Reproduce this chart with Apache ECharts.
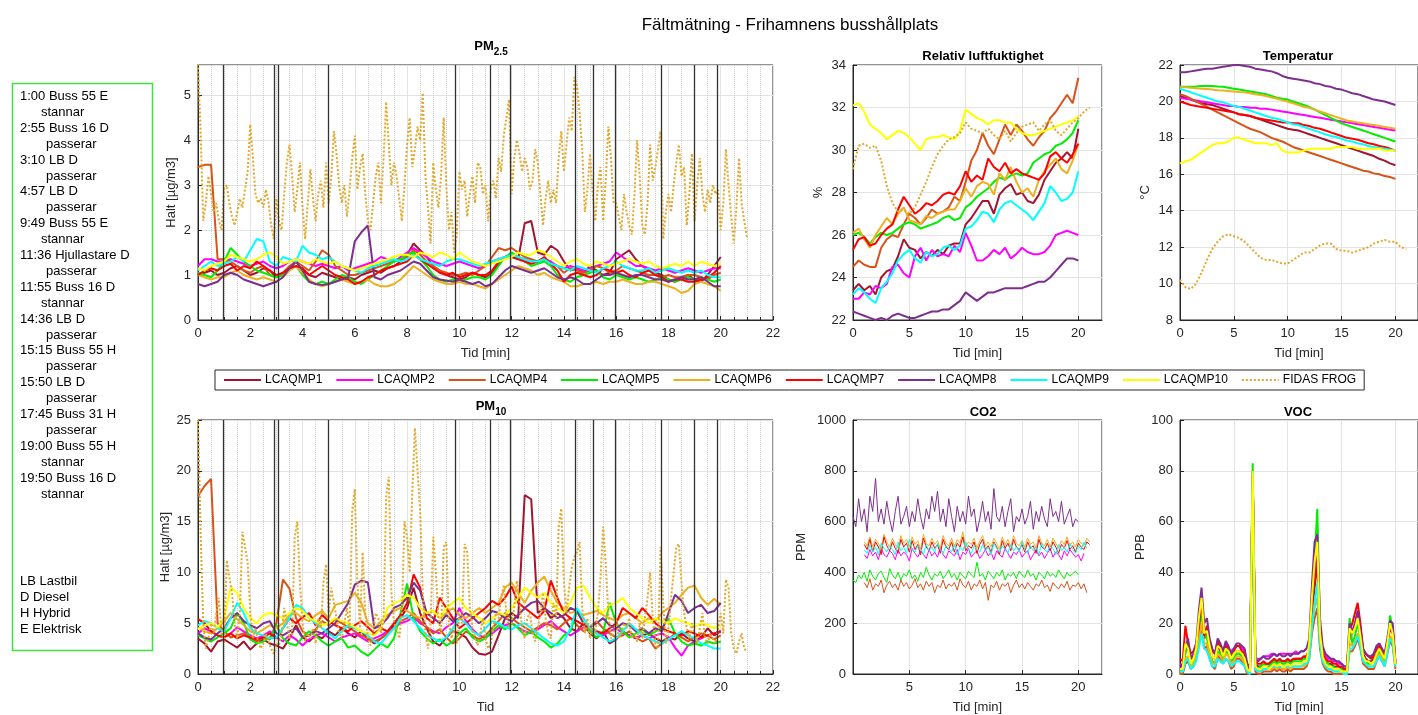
<!DOCTYPE html>
<html><head><meta charset="utf-8">
<script src="https://cdn.jsdelivr.net/npm/echarts@6/dist/echarts.min.js"></script>
<style>html,body{margin:0;padding:0;background:#fff}#c{width:1418px;height:715px}</style>
</head><body><div id="c"></div>
<script>
const FONT = 'Liberation Sans, Arial, sans-serif';
const sensorNames = ['LCAQMP1','LCAQMP2','LCAQMP4','LCAQMP5','LCAQMP6','LCAQMP7','LCAQMP8','LCAQMP9','LCAQMP10'];
const fidasName = 'FIDAS FROG';
const sensorColors = ['#A2142F','#FF00FF','#D95319','#00EE00','#EDB120','#FF0000','#7E2F8E','#00FFFF','#FFFF00'];
const fidasColor = '#E3A72A';

// event lines (min) drawn in PM plots
const eventTimes = [0.95, 2.91, 3.08, 4.97, 9.85, 11.2, 11.96, 14.45, 15.12, 15.97, 17.71, 19.0, 19.85];
const eventText = ['1:00 Buss 55 E','stannar','2:55 Buss 16 D','passerar','3:10 LB D','passerar','4:57 LB D','passerar','9:49 Buss 55 E','stannar','11:36 Hjullastare D','passerar','11:55 Buss 16 D','stannar','14:36 LB D','passerar','15:15 Buss 55 H','passerar','15:50 LB D','passerar','17:45 Buss 31 H','passerar','19:00 Buss 55 H','stannar','19:50 Buss 16 D','stannar'];
const keyText = ['LB Lastbil','D Diesel','H Hybrid','E Elektrisk'];

// ---- PM2.5 (sensors every 0.25 min from 0; FIDAS every 0.1 min from 0)
const pmStep = 0.25, fidasPmStep = 0.1;
const pm25_1 = [1.0,1.05,1.1,1.0, 1.05,1.15,1.2,1.1, 1.0,1.05,1.15,1.1, 0.95,1.0,1.15,1.3, 1.1,1.0,0.95,1.05, 1.0,0.95,0.9,0.95, 0.9,1.0,1.05,1.1, 1.05,1.15,1.2,1.3, 1.45,1.7,1.55,1.4, 1.2,1.1,1.0,0.95, 0.9,0.95,1.05,1.0, 0.95,1.05,1.25,1.4, 1.4,1.35,2.15,2.2, 1.5,1.45,1.65,1.55, 1.3,1.1,1.15,1.05, 1.2,1.1,1.0,1.05, 1.35,1.45,1.55,1.35, 1.2,1.1,1.05,1.0, 0.9,0.85,0.95,1.0, 0.9,0.85,1.0,1.2, 1.4];
const pm25_2 = [1.2,1.35,1.35,1.3, 1.3,1.35,1.3,1.25, 1.2,1.25,1.3,1.2, 1.15,1.2,1.3,1.35, 1.3,1.25,1.2,1.25, 1.2,1.15,1.2,1.1, 1.15,1.2,1.25,1.3, 1.4,1.35,1.3,1.4, 1.5,1.6,1.5,1.4, 1.3,1.25,1.2,1.25, 1.3,1.25,1.2,1.15, 1.2,1.3,1.35,1.4, 1.45,1.4,1.35,1.3, 1.3,1.35,1.3,1.2, 1.15,1.2,1.15,1.1, 1.15,1.2,1.25,1.3, 1.5,1.4,1.3,1.2, 1.2,1.15,1.1,1.15, 1.1,1.05,1.1,1.15, 1.1,1.05,1.1,1.15, 1.15];
const pm25_4 = [3.4,3.45,3.45,1.35, 1.35,1.3,1.2,1.1, 1.05,1.15,1.2,1.0, 0.95,1.05,1.2,1.3, 1.2,1.1,1.3,1.55, 1.45,1.2,1.1,1.0, 1.0,1.05,1.1,1.15, 1.2,1.25,1.3,1.35, 1.4,1.55,1.45,1.3, 1.2,1.1,1.05,1.0, 1.0,1.05,1.0,1.1, 1.2,1.4,1.6,1.55, 1.6,1.5,1.4,1.35, 1.3,1.35,1.25,1.2, 1.05,1.15,1.1,1.05, 1.1,1.2,1.15,1.05, 1.1,1.2,1.15,1.1, 1.05,1.0,1.0,0.95, 1.0,0.95,0.95,1.0, 1.0,0.95,0.9,1.0, 1.05];
const pm25_5 = [1.05,1.0,0.95,1.1, 1.3,1.6,1.45,1.3, 1.2,1.1,1.05,1.0, 0.95,1.0,1.1,1.2, 1.0,0.85,0.8,0.85, 0.8,0.9,1.0,0.95, 0.85,0.8,0.9,1.0, 1.1,1.2,1.3,1.35, 1.45,1.5,1.35,1.2, 1.0,0.9,0.85,0.9, 0.85,0.9,0.95,0.95, 0.9,1.0,1.2,1.4, 1.5,1.4,1.3,1.2, 1.25,1.3,1.2,1.0, 0.9,0.85,0.95,1.0, 1.05,1.1,0.95,0.9, 1.0,0.95,0.9,0.95, 0.9,0.85,0.9,0.95, 0.9,0.85,0.9,0.95, 0.9,0.95,0.9,0.85, 0.9];
const pm25_6 = [1.0,0.95,0.9,0.95, 0.95,1.05,1.1,1.0, 0.95,0.9,0.95,0.9, 0.85,0.95,1.1,1.2, 1.05,0.9,0.8,0.75, 0.8,0.85,0.9,0.85, 0.8,0.85,0.9,0.8, 0.75,0.75,0.8,0.9, 1.05,1.2,1.1,1.0, 0.9,0.85,0.8,0.8, 0.85,0.8,0.8,0.75, 0.7,0.8,0.9,1.0, 1.1,1.2,1.15,1.1, 1.0,1.05,0.95,0.9, 0.85,0.75,0.75,0.8, 0.8,0.85,0.8,0.85, 0.85,0.9,0.85,0.8, 0.8,0.85,0.85,0.8, 0.75,0.7,0.6,0.65, 0.8,0.85,0.8,0.75, 0.65];
const pm25_7 = [1.0,1.1,1.15,1.1, 1.2,1.25,1.1,1.2, 1.15,1.3,1.2,1.1, 1.0,1.05,1.15,1.2, 1.15,1.0,1.1,1.2, 1.1,1.0,0.95,0.9, 0.8,0.85,0.95,1.0, 1.1,1.15,1.2,1.25, 1.3,1.45,1.35,1.25, 1.15,1.05,1.0,1.05, 0.95,1.0,1.05,1.0, 1.0,1.1,1.3,1.4, 1.45,1.35,1.3,1.25, 1.3,1.4,1.25,1.1, 0.85,1.0,1.05,1.0, 0.95,1.0,1.15,1.1, 1.05,1.1,1.0,0.95, 1.05,1.1,1.0,0.95, 0.85,0.9,0.9,0.85, 0.85,0.9,0.95,1.05, 1.2];
const pm25_8 = [0.8,0.75,0.8,0.85, 1.0,1.05,1.0,0.9, 0.85,0.8,0.75,0.8, 0.85,0.95,1.15,1.3, 1.1,0.85,0.8,0.78, 0.8,0.85,0.9,0.95, 1.75,1.95,2.1,0.95, 0.9,1.0,1.05,1.1, 1.2,1.3,1.25,1.1, 0.95,0.9,0.88,0.85, 0.9,0.85,0.8,0.85, 0.75,0.8,0.95,1.1, 1.2,1.15,1.1,1.05, 1.1,1.15,1.05,0.95, 0.9,0.95,0.9,0.8, 0.8,0.9,1.0,1.0, 1.05,1.0,0.95,1.0, 1.0,0.95,0.9,0.9, 0.85,0.9,0.95,0.9, 0.9,0.95,0.85,0.75, 0.75];
const pm25_9 = [1.1,1.2,1.3,1.2, 1.25,1.3,1.4,1.3, 1.55,1.8,1.75,1.3, 1.2,1.4,1.35,1.3, 1.65,1.5,1.45,1.35, 1.4,1.3,1.2,1.15, 1.1,1.05,1.15,1.2, 1.25,1.3,1.35,1.3, 1.35,1.45,1.35,1.3, 1.25,1.2,1.3,1.35, 1.35,1.3,1.25,1.2, 1.25,1.3,1.35,1.4, 1.45,1.4,1.35,1.3, 1.3,1.35,1.25,1.2, 1.15,1.1,1.2,1.15, 1.1,1.05,1.15,1.2, 1.3,1.2,1.15,1.1, 1.1,1.15,1.05,1.1, 1.15,1.1,1.05,1.1, 1.05,1.1,1.0,0.95, 0.95];
const pm25_10 = [1.15,1.1,1.2,1.25, 1.3,1.45,1.4,1.35, 1.3,1.35,1.45,1.5, 1.4,1.25,1.3,1.35, 1.3,1.25,1.35,1.3, 1.25,1.3,1.2,1.15, 1.1,1.15,1.2,1.25, 1.3,1.35,1.4,1.45, 1.45,1.4,1.5,1.45, 1.4,1.5,1.45,1.35, 1.5,1.4,1.3,1.25, 1.2,1.25,1.3,1.35, 1.4,1.5,1.45,1.45, 1.55,1.5,1.4,1.3, 1.2,1.3,1.35,1.25, 1.2,1.3,1.25,1.2, 1.25,1.3,1.35,1.3, 1.25,1.3,1.2,1.15, 1.2,1.25,1.2,1.3, 1.2,1.3,1.25,1.2, 1.25];
const pm25_fidas = [5.7,4.2,2.2,2.6,3.2,2.8,2.4,2.6,2.2,2.0, 2.9,3.0,2.6,2.3,2.1,2.4,2.7,2.5,2.9,3.3, 4.35,3.6,2.8,2.6,2.7,2.5,2.9,2.6,2.1,1.8, 2.7,2.2,2.0,2.8,3.5,3.9,3.2,2.4,2.9,3.5, 2.5,1.8,2.6,3.35,2.7,2.2,2.8,3.1,2.5,3.5, 2.6,3.2,4.2,3.7,3.0,2.6,3.0,2.3,2.9,3.6, 4.1,2.9,3.4,3.7,2.8,2.2,2.0,2.6,3.2,3.5, 2.6,3.6,4.85,3.9,3.0,3.5,3.2,2.7,2.2,3.0, 3.9,4.5,3.4,3.8,4.3,4.0,5.05,3.2,2.5,1.7, 3.5,2.9,2.5,3.2,4.5,3.0,2.0,2.4,1.5,1.9, 3.3,2.9,3.1,2.3,2.8,3.2,2.6,3.5,3.4,2.8, 3.0,2.2,2.9,3.1,2.7,3.6,3.3,4.1,4.5,4.9, 2.8,3.6,4.0,3.7,3.3,3.6,3.4,2.9,3.1,3.8, 3.5,2.8,2.1,2.7,3.1,2.6,2.9,2.6,3.6,4.2, 3.3,3.9,4.5,4.2,5.4,5.2,4.6,3.8,2.4,2.9, 3.7,2.8,2.2,3.0,3.4,2.2,3.1,4.3,3.6,2.6, 2.6,2.3,2.0,2.8,2.4,2.1,1.9,2.8,4.0,3.2, 2.1,1.9,2.6,3.9,3.1,3.4,3.8,4.2,1.8,2.4, 2.8,2.4,3.0,3.5,3.9,3.2,3.4,2.1,2.8,3.7, 2.2,3.0,3.6,2.8,2.4,2.9,2.6,3.0,2.8,2.9, 2.0,2.6,3.8,3.0,2.3,1.7,2.5,3.6,2.6,2.2, 1.85];

// ---- PM10
const pm10_1 = [3.5,3.0,2.2,3.2, 3.4,3.0,2.6,3.2, 2.4,3.0,3.4,3.0, 2.8,2.5,3.5,4.8, 3.6,3.2,3.8,3.5, 4.2,3.8,4.5,4.0, 3.6,4.2,3.4,3.0, 3.5,4.0,4.8,5.5, 6.5,8.5,6.0,4.5, 3.2,2.8,3.6,4.2, 4.0,3.6,2.6,2.0, 1.9,2.2,3.8,5.5, 6.0,5.5,17.6,17.2, 6.0,6.5,5.5,6.0, 5.5,4.5,4.2,5.0, 4.0,3.5,4.2,3.0, 3.4,4.2,3.8,3.5, 3.8,4.0,3.5,3.2, 3.6,3.4,4.0,3.5, 3.2,3.6,4.5,3.8, 4.2];
const pm10_2 = [4.0,4.5,4.2,3.8, 3.6,4.0,4.6,4.2, 3.8,3.5,3.8,4.2, 3.6,3.2,3.8,3.4, 2.8,3.4,3.8,4.0, 3.6,3.2,3.6,3.8, 4.0,3.6,3.2,3.5, 3.8,4.2,4.5,5.0, 5.2,5.6,5.0,4.6, 4.2,4.0,4.6,5.0, 6.5,5.2,4.4,3.8, 3.6,4.0,4.5,4.8, 5.0,4.6,4.2,4.0, 4.4,4.8,5.2,4.6, 4.2,3.8,4.2,4.6, 4.4,4.0,3.8,4.2, 4.5,4.0,3.8,3.6, 3.8,3.5,3.8,4.0, 3.6,2.6,1.8,2.8, 3.2,3.5,3.8,4.0, 4.2];
const pm10_4 = [17.5,18.5,19.2,5.0, 4.2,3.6,3.8,4.0, 3.5,3.2,3.6,3.4, 5.0,9.3,8.4,5.5, 4.2,3.8,4.4,5.2, 4.8,5.4,5.0,4.6, 4.2,3.8,3.5,3.2, 3.5,4.0,4.5,5.2, 5.5,6.0,5.2,4.6, 4.0,4.4,3.6,3.0, 3.5,4.2,3.8,3.4, 3.8,4.5,5.2,6.0, 5.5,5.0,4.6,4.2, 4.6,5.0,4.8,4.4, 5.0,5.5,4.8,4.2, 4.6,5.2,4.5,4.0, 3.6,3.8,4.2,3.6, 3.2,3.5,2.5,3.0, 3.4,4.0,3.6,3.2, 3.6,4.0,3.8,3.4, 3.8];
const pm10_5 = [3.8,3.5,3.2,3.6, 4.0,4.5,6.0,5.0, 3.4,3.0,3.2,3.6, 4.8,3.5,3.0,2.8, 3.6,4.2,3.8,3.2, 2.8,3.2,3.5,2.6, 2.8,2.2,1.8,2.4, 3.0,2.6,3.5,6.0, 8.9,5.5,4.2,3.5, 3.0,3.4,2.8,3.2, 4.0,4.5,3.6,3.2, 3.5,4.2,4.8,4.4, 5.0,4.5,3.8,4.2, 3.6,3.2,2.6,3.0, 3.8,4.2,6.2,5.0, 4.2,3.6,4.0,7.0, 5.0,4.2,3.6,4.0, 4.4,3.8,4.2,4.5, 5.5,4.0,3.2,2.8, 3.0,2.8,3.2,3.0, 3.2];
const pm10_6 = [4.6,4.2,4.0,4.5, 5.2,6.0,5.4,4.8, 4.2,4.0,4.4,4.8, 4.5,5.0,5.8,6.0, 5.5,5.2,5.8,6.2, 5.5,6.8,7.0,7.2, 8.0,7.0,5.0,4.5, 5.2,5.8,6.2,6.5, 6.2,5.8,5.5,6.0, 6.2,5.5,6.0,6.5, 5.8,5.5,6.0,6.5, 6.0,6.5,7.0,8.5, 9.0,8.0,7.0,8.2, 9.0,9.6,8.2,7.0, 6.5,6.0,6.2,5.8, 6.0,6.2,5.8,5.5, 5.2,5.8,6.0,5.5, 5.0,5.5,5.2,6.0, 6.5,7.0,7.8,8.5, 8.7,7.5,6.8,7.4, 6.8];
const pm10_7 = [5.4,5.0,4.2,3.8, 3.6,4.0,3.5,3.8, 3.6,3.4,3.6,4.0, 3.5,4.5,5.5,5.0, 5.6,6.0,4.8,5.8, 5.2,4.8,4.5,4.2, 4.8,5.2,4.6,4.0, 4.5,4.2,5.0,5.8, 7.0,9.8,8.5,5.5, 5.0,7.5,6.5,5.5, 4.5,5.0,5.5,6.0, 6.5,7.2,6.8,7.5, 8.6,7.0,6.5,6.0, 5.5,6.2,9.2,7.5, 6.0,5.5,5.2,4.8, 4.5,4.2,4.0,4.5, 5.0,6.5,6.0,5.5, 6.5,5.8,5.0,4.5, 4.2,4.0,3.8,4.2, 4.0,3.6,3.8,4.0, 4.2];
const pm10_8 = [4.0,3.6,3.4,4.0, 4.5,5.5,6.0,5.2, 4.8,4.5,5.0,5.2, 4.0,3.8,4.2,4.5, 3.6,3.8,4.2,4.0, 4.5,5.0,6.0,7.0, 8.8,9.2,9.0,4.5, 4.8,5.5,6.5,6.8, 7.5,9.0,8.2,6.0, 5.5,5.0,5.8,5.2, 5.5,6.0,5.6,5.0, 5.5,6.2,6.0,5.5, 5.2,5.8,6.5,7.0, 7.2,6.5,6.0,5.5, 5.8,6.5,6.2,5.0, 4.6,5.0,5.5,4.8, 4.5,5.0,4.8,4.2, 4.5,4.0,4.5,4.2, 6.0,7.8,7.2,6.0, 6.5,6.8,6.0,6.2, 7.0];
const pm10_9 = [4.8,5.2,5.0,4.5, 4.2,5.5,7.0,6.0, 4.5,4.0,3.8,3.5, 3.6,4.5,5.5,6.8, 6.5,5.5,5.0,4.5, 4.0,3.5,4.2,4.8, 4.5,4.2,3.8,3.2, 3.0,3.8,4.5,5.5, 5.8,5.2,4.5,3.8, 3.5,3.2,3.6,4.5, 5.5,5.0,4.2,3.8, 4.5,5.2,5.0,4.6, 4.4,4.8,5.0,4.5, 4.0,3.5,3.0,2.8, 3.2,4.5,6.5,5.5, 4.5,4.0,3.6,3.2, 3.5,4.2,5.0,4.4, 3.8,3.5,3.2,3.0, 3.4,3.8,4.2,3.8, 3.5,3.0,2.8,2.5, 2.5];
const pm10_10 = [4.4,4.8,5.0,4.6, 5.5,8.5,8.0,6.5, 5.5,5.0,5.8,6.0, 5.8,5.5,6.0,6.5, 6.2,5.5,5.2,4.8, 5.0,5.5,5.2,5.0, 4.6,4.2,4.0,3.8, 4.5,6.5,7.0,7.2, 7.8,7.5,6.5,6.0, 6.2,5.5,6.5,7.0, 7.5,6.5,6.0,5.5, 5.0,5.5,6.0,5.8, 6.5,7.5,8.5,8.0, 7.5,8.0,7.0,6.5, 6.0,7.0,8.5,8.7, 7.5,6.5,6.0,6.8, 7.0,7.5,6.5,6.0, 5.5,5.0,5.5,5.2, 5.0,5.5,5.2,5.0, 4.6,5.0,4.8,4.5, 4.8];
const pm10_fidas = [25,14,5.0,2.5,3.5,5.0,4.0,6.0,7.5,4.0, 3.0,11.2,9.5,8.0,5.0,3.5,6.0,14.0,12.5,11.0, 6.0,3.5,4.5,3.2,2.5,3.0,4.0,3.2,2.5,2.0, 3.0,2.8,4.0,6.5,5.0,3.5,4.0,13.5,15.0,9.0, 5.0,3.2,4.0,3.5,4.5,3.0,5.5,4.5,9.0,10.8, 6.0,8.5,7.0,5.5,4.0,3.5,5.0,6.5,4.5,16.0, 18.2,9.0,4.5,12.0,6.0,3.5,2.8,4.0,6.0,5.5, 4.0,5.5,17.5,19.4,8.0,5.0,4.5,3.5,6.0,15.0, 13.5,10.0,18.0,24.2,20.0,16.0,8.0,4.0,2.5,5.0, 13.5,10.0,5.5,4.0,12.5,13.0,5.0,3.5,4.5,3.0, 6.0,5.0,12.8,12.0,6.5,4.5,3.5,2.8,4.0,5.5, 3.5,2.5,3.0,4.5,6.0,5.5,7.5,8.8,6.0,4.5, 5.0,6.5,9.2,7.0,4.5,3.5,5.5,6.0,4.0,3.2, 4.5,6.0,8.0,5.5,4.0,3.5,7.0,5.5,14.5,16.3, 9.0,6.0,8.5,10.5,11.5,12.0,13.0,6.5,4.0,5.5, 3.5,5.0,4.0,6.0,9.5,14.5,10.8,6.0,3.5,4.0, 5.5,3.5,4.0,5.0,4.5,5.5,3.5,4.0,3.2,5.0, 3.5,5.5,7.5,10.0,5.5,3.0,2.5,12.5,7.0,3.0, 4.5,7.5,10.0,12.5,12.8,9.0,6.0,4.5,3.5,5.0, 4.0,3.0,4.5,6.0,3.5,3.0,4.0,3.5,3.0,4.5, 6.0,4.0,9.3,8.5,4.0,2.5,2.0,3.2,4.0,2.5, 2.2];

// ---- Relative humidity and temperature (every 0.5 min from 0)
const slowStep = 0.5;
const rh_1 = [23.4,23.7,23.4,23.6,23.2,24.0,24.3,24.4,25.0,25.8,25.4,25.3,24.9,25.2,25.0,25.3,25.1,25.5,25.6,25.6,26.5,26.8,27.2,27.6,27.6,27.0,27.9,28.2,28.4,27.9,28.0,27.6,27.5,27.9,28.6,29.0,29.4,29.6,29.9,29.6,31.0];
const rh_2 = [23.0,23.0,23.3,23.2,23.6,23.5,23.7,24.5,24.6,24.2,24.0,25.0,25.4,24.8,25.3,25.0,25.1,25.0,25.5,25.2,26.1,25.5,24.8,24.8,25.0,25.3,25.1,25.4,24.9,25.1,25.4,25.2,25.1,25.1,25.2,25.5,26.0,26.1,26.2,26.1,26.0];
const rh_4 = [24.5,24.8,24.6,24.5,24.5,25.4,25.8,26.0,25.9,26.5,27.0,26.8,26.5,26.8,27.2,27.0,27.1,27.3,27.8,27.6,28.5,29.5,30.0,30.8,30.2,29.8,30.5,31.2,30.7,31.2,30.9,30.5,30.2,30.6,30.9,31.5,31.8,32.2,32.6,32.2,33.4];
const rh_5 = [26.0,26.1,25.9,25.6,25.9,26.1,26.0,26.1,26.3,26.5,26.6,26.5,26.3,26.4,26.5,26.6,26.8,26.9,26.7,26.8,27.3,27.5,27.8,28.0,28.2,28.5,28.7,28.6,28.8,28.9,28.8,28.9,29.4,29.6,29.8,29.9,30.2,30.3,30.5,30.8,31.4];
const rh_6 = [26.1,26.3,25.8,25.4,26.0,26.4,26.8,26.5,27.0,27.3,26.7,26.6,26.5,26.9,26.8,27.0,27.1,27.2,27.2,27.6,28.2,27.8,28.3,28.5,28.4,27.9,28.9,28.6,29.2,28.5,28.0,28.2,27.8,28.6,29.0,29.3,29.6,29.1,28.9,29.5,30.3];
const rh_7 = [25.3,25.8,25.9,25.5,25.6,26.0,26.3,26.5,27.2,27.8,27.4,27.0,27.2,27.5,27.4,27.6,27.9,28.0,27.9,28.3,29.0,28.5,28.8,28.6,29.6,29.2,29.0,29.4,28.9,29.1,28.9,28.8,28.7,28.6,28.9,29.7,29.9,29.6,29.4,29.8,30.3];
const rh_8 = [22.4,22.3,22.2,22.1,22.0,22.1,22.0,22.2,22.3,22.2,22.1,22.1,22.2,22.3,22.4,22.4,22.5,22.5,22.7,22.9,23.3,23.1,22.9,23.1,23.3,23.3,23.4,23.5,23.5,23.5,23.5,23.6,23.7,23.8,23.8,24.0,24.3,24.6,24.9,24.9,24.8];
const rh_9 = [23.2,23.5,23.3,23.0,22.8,23.5,23.8,24.2,24.8,25.1,25.3,24.9,24.7,25.2,25.0,25.1,25.4,25.5,25.3,25.5,26.3,26.4,26.7,27.1,27.0,26.6,27.2,27.5,27.6,27.4,27.2,27.0,26.7,27.1,27.5,28.3,28.0,27.6,27.7,28.0,29.0];
const rh_10 = [32.1,32.2,31.8,31.2,31.0,30.8,30.5,30.7,30.9,30.8,30.6,30.3,30.0,30.5,30.6,30.6,30.7,30.6,30.5,30.9,31.9,31.7,31.5,31.4,31.2,31.4,31.4,31.3,31.3,31.0,30.8,30.7,30.7,30.8,30.9,31.0,31.1,31.2,31.3,31.4,31.6];
const rh_fidas = [29.1,30.2,30.3,30.1,30.2,29.5,28.3,27.5,27.1,27.2,27.0,27.3,27.9,28.5,29.2,29.8,30.2,30.5,30.6,30.8,31.3,31.0,30.9,30.8,31.0,30.7,30.5,30.9,30.4,30.8,31.1,31.2,31.3,30.9,31.2,31.4,30.9,30.7,31.0,31.3,31.5,31.8,32.0];

const temp_1 = [20.3,20.2,20.1,20.0,19.9,19.85,19.8,19.7,19.6,19.5,19.4,19.3,19.25,19.2,19.1,19.0,18.9,18.8,18.7,18.6,18.5,18.45,18.4,18.3,18.2,18.1,18.0,17.9,17.8,17.7,17.6,17.5,17.4,17.3,17.2,17.1,17.0,16.85,16.75,16.6,16.5];
const temp_2 = [20.2,20.15,20.1,20.05,20.0,19.95,19.9,19.85,19.8,19.75,19.75,19.7,19.7,19.65,19.65,19.6,19.6,19.55,19.5,19.45,19.4,19.35,19.3,19.25,19.2,19.15,19.1,19.05,19.0,18.95,18.9,18.85,18.8,18.75,18.7,18.65,18.6,18.55,18.5,18.45,18.4];
const temp_4 = [20.4,20.3,20.15,20.0,19.85,19.7,19.55,19.4,19.25,19.1,18.95,18.8,18.65,18.5,18.4,18.3,18.15,18.0,17.9,17.8,17.65,17.5,17.4,17.3,17.2,17.1,17.0,16.9,16.8,16.7,16.6,16.5,16.4,16.3,16.2,16.15,16.05,16.0,15.9,15.85,15.75];
const temp_5 = [20.8,20.8,20.8,20.82,20.85,20.85,20.85,20.82,20.8,20.75,20.7,20.65,20.6,20.55,20.5,20.45,20.4,20.3,20.2,20.15,20.1,20.0,19.9,19.8,19.7,19.55,19.4,19.25,19.1,18.95,18.8,18.7,18.6,18.5,18.4,18.3,18.2,18.1,18.0,17.9,17.8];
const temp_6 = [20.8,20.78,20.75,20.72,20.7,20.68,20.65,20.62,20.6,20.57,20.55,20.52,20.5,20.45,20.4,20.35,20.3,20.22,20.15,20.07,20.0,19.9,19.8,19.7,19.65,19.55,19.45,19.35,19.25,19.15,19.05,18.95,18.9,18.85,18.8,18.75,18.7,18.65,18.6,18.55,18.5];
const temp_7 = [20.0,19.9,19.8,19.75,19.7,19.65,19.6,19.55,19.5,19.45,19.4,19.3,19.25,19.2,19.1,19.05,19.0,18.95,18.9,18.85,18.85,18.8,18.8,18.7,18.65,18.55,18.5,18.4,18.3,18.2,18.1,18.0,17.95,17.9,17.8,17.7,17.65,17.55,17.5,17.4,17.3];
const temp_8 = [21.6,21.6,21.65,21.7,21.75,21.8,21.8,21.85,21.9,21.95,22.0,22.0,21.95,21.9,21.8,21.75,21.7,21.65,21.55,21.4,21.3,21.25,21.2,21.15,21.1,21.0,20.95,20.85,20.8,20.7,20.65,20.55,20.45,20.4,20.3,20.2,20.1,20.05,20.0,19.9,19.8];
const temp_9 = [20.7,20.6,20.5,20.4,20.3,20.2,20.1,20.0,19.95,19.85,19.75,19.7,19.6,19.5,19.4,19.3,19.2,19.1,19.05,18.95,18.85,18.75,18.7,18.6,18.5,18.4,18.3,18.2,18.1,18.05,17.95,17.85,17.8,17.7,17.65,17.55,17.5,17.45,17.4,17.35,17.3];
const temp_10 = [16.6,16.7,16.8,17.0,17.2,17.4,17.6,17.7,17.7,17.8,18.0,18.0,17.9,17.8,17.7,17.7,17.7,17.6,17.7,17.3,17.2,17.2,17.2,17.3,17.4,17.4,17.4,17.4,17.4,17.5,17.5,17.5,17.5,17.4,17.4,17.4,17.4,17.4,17.3,17.3,17.3];
const temp_fidas = [10.2,9.8,9.7,10.0,10.6,11.3,11.9,12.3,12.6,12.7,12.6,12.5,12.3,12.0,11.7,11.4,11.3,11.3,11.2,11.1,11.1,11.3,11.5,11.7,11.7,11.9,12.1,12.2,12.2,11.9,11.8,11.8,11.7,11.8,11.9,12.0,12.2,12.3,12.4,12.3,12.3,12.0,11.9];

// ---- CO2 (every 0.25 min; start minute per sensor)
const co2Step = 0.25;
const co2_2 = [470,455,490,465,480,450,495,470,460,485,475,450,490,465,480,470,445,495,475,460, 485,470,455,490,465,480,460,500,470,455,485,475,465,490,450,480,470,495,460,475, 485,455,470,490,465,480,450,485,470,460,495,475,455,480,470,490,460,475,485,450, 470,490,465,480,455,475,495,460,480,470,450,485,465,490,475,460,470,445,475];
const co2_4 = [360,340,375,330,355,345,370,320,350,365,340,355,330,370,345,360,335,350,375,340, 355,330,365,345,360,320,350,340,370,335,355,345,360,330,375,350,340,365,330,355, 345,370,335,360,290,350,340,365,330,355,345,360,320,350,370,340,355,335,360,345, 330,355,345,370,340,350,325,360,345,335,355,340,365,330,350,345,360,335,355,320];
const co2_5 = [370,360,390,375,400,365,410,385,370,395,405,380,360,415,390,375,400,370,395,385, 410,375,390,365,400,380,420,390,370,395,385,405,375,390,410,380,395,370,400,385, 375,405,390,380,440,385,395,370,405,390,375,400,385,410,370,395,385,400,375,405, 390,380,410,385,395,370,400,390,375,405,385,395,380,410,390,375,400,385,395,405,390];
const co2_6 = [520,505,540,500,530,515,490,550,520,500,535,510,495,545,515,530,500,540,510,525, 490,550,515,505,535,510,525,495,545,515,505,535,500,530,515,560,500,520,510,535, 495,525,545,505,520,500,535,515,490,540,510,530,500,545,515,505,525,500,535,510, 520,495,545,515,505,530,500,535,515,495,525,510,540,505,520,500,530,515,505,535,520];
const co2_7 = [510,490,530,480,520,500,470,540,505,485,520,495,475,530,500,515,480,525,490,510, 470,535,500,485,520,495,510,475,530,500,490,520,480,515,500,540,485,505,495,520, 475,510,530,490,505,480,520,500,470,525,495,515,485,530,500,490,510,480,520,495, 505,475,530,500,490,515,485,520,500,475,510,495,525,490,505,480,515,500,490,520,510];
const co2_8 = [620,580,690,600,650,560,700,640,770,600,650,590,680,610,560,640,700,590,620,660, 580,640,600,690,620,570,650,610,700,640,720,600,650,580,690,620,560,660,600,640, 590,700,620,650,560,610,680,600,640,570,730,620,600,660,580,640,690,560,620,600, 650,590,620,680,570,640,600,660,610,580,690,620,640,600,680,590,620,650,580,610,600];
const co2_9 = [490,475,510,480,500,470,515,495,480,505,490,470,520,485,500,475,530,490,480,505, 495,470,510,485,500,480,515,490,475,505,495,480,510,470,500,485,520,490,475,505, 490,480,510,485,500,470,515,495,480,505,490,475,510,485,500,480,520,490,475,505, 485,500,470,515,490,480,505,495,470,510,485,500,480,515,490,475,505,490,520,495];
const co2Start = {LCAQMP2: 1.0, LCAQMP4: 1.0, LCAQMP5: 0.0, LCAQMP6: 1.0, LCAQMP7: 1.0, LCAQMP8: 0.0, LCAQMP9: 1.0};

// ---- VOC (every 0.25 min from 0)
const vocStep = 0.25;
const voc_1 = [3,3,12,11, 6,7,10,19, 26,14,16,10, 7,6,11,9, 7,10,9,7, 8,9,9,8, 6,2,1,78, 4,3,3,4, 4,4,5,5, 4,5,5,5, 5,5,5,6, 6,6,6,7, 9,24,34,44, 14,7,5,4, 4,3,3,3, 2,2,1,15, 16,19,22,17, 8,6,5,5, 6,9,10,8, 6,11,18,16, 4];
const voc_2 = [4,3,9,10, 6,8,11,20, 28,16,18,12, 9,8,12,11, 9,12,10,9, 10,11,11,10, 9,3,2,76, 6,6,6,7, 7,7,8,8, 7,8,8,8, 8,8,8,9, 8,9,9,10, 12,28,40,50, 14,9,7,6, 6,5,5,4, 4,3,3,16, 17,20,24,18, 9,8,7,7, 8,11,12,10, 8,12,20,18, 5];
const voc_4 = [0,0,4,5, 2,3,6,12, 18,10,11,6, 3,2,7,6, 4,6,5,2, 3,6,6,5, 3,0,0,77, 1,0,0,1, 1,1,1,2, 1,2,1,1, 2,1,2,2, 2,2,2,3, 6,16,22,26, 10,4,2,1, 1,0,0,0, 0,0,0,9, 9,11,14,10, 4,3,2,2, 2,5,7,5, 3,8,13,11, 2];
const voc_5 = [1,1,8,12, 4,5,8,18, 24,16,14,9, 5,4,9,8, 6,9,8,5, 6,8,8,7, 5,2,1,83, 3,2,3,4, 3,3,4,5, 4,5,4,4, 5,4,5,5, 5,5,6,6, 10,30,45,65, 18,8,5,4, 3,3,2,2, 2,1,1,22, 12,15,20,14, 6,5,4,4, 5,7,9,7, 5,10,23,18, 4];
const voc_6 = [1,1,6,7, 3,4,7,14, 20,12,12,8, 4,4,8,7, 5,8,7,4, 5,7,7,6, 4,1,0,78, 2,1,1,2, 2,2,2,3, 2,3,2,2, 3,2,3,3, 3,3,3,4, 8,20,26,30, 12,5,3,2, 2,1,1,1, 1,0,0,12, 11,13,16,12, 5,4,3,3, 3,6,8,6, 4,9,15,13, 3];
const voc_7 = [6,5,19,12, 8,9,12,18, 30,15,19,12, 9,8,13,11, 8,11,10,8, 9,11,11,9, 8,3,2,78, 5,4,4,5, 4,4,5,6, 5,6,5,5, 6,5,6,6, 6,6,7,7, 10,26,38,50, 14,8,6,5, 5,4,4,3, 3,2,2,17, 20,24,28,20, 10,8,7,6, 7,10,11,9, 7,12,19,18, 4];
const voc_8 = [3,4,10,14, 6,8,12,25, 34,20,22,14, 10,8,14,12, 9,13,11,8, 10,12,12,11, 10,4,3,80, 6,5,6,7, 6,6,7,8, 7,8,7,7, 8,7,8,8, 8,9,9,10, 14,35,52,55, 22,11,8,7, 6,6,5,5, 4,3,3,20, 16,20,25,18, 10,8,7,7, 8,11,12,10, 8,14,21,20, 5];
const voc_9 = [1,1,5,6, 2,3,5,10, 16,10,9,6, 3,3,6,5, 4,6,5,3, 4,5,5,4, 3,1,0,79, 2,1,1,2, 2,2,3,3, 3,3,3,3, 3,3,3,3, 3,3,4,4, 6,18,28,36, 12,5,3,2, 2,1,1,1, 1,0,0,10, 10,12,15,11, 5,4,3,3, 3,5,7,5, 3,8,14,12, 3];
const voc_10 = [2,2,12,10, 4,6,10,22, 30,16,17,11, 7,6,11,10, 7,10,9,6, 8,9,9,8, 6,2,1,80, 3,2,2,3, 3,2,3,4, 3,4,3,3, 4,3,4,4, 4,4,5,5, 12,30,44,52, 16,7,4,3, 3,2,2,2, 1,1,1,18, 16,18,22,15, 7,5,5,4, 5,8,10,8, 6,12,20,16, 4];

// ---------------- build ----------------
const pm25Sets = [pm25_1,pm25_2,pm25_4,pm25_5,pm25_6,pm25_7,pm25_8,pm25_9,pm25_10];
const pm10Sets = [pm10_1,pm10_2,pm10_4,pm10_5,pm10_6,pm10_7,pm10_8,pm10_9,pm10_10];
const rhSets = [rh_1,rh_2,rh_4,rh_5,rh_6,rh_7,rh_8,rh_9,rh_10];
const tempSets = [temp_1,temp_2,temp_4,temp_5,temp_6,temp_7,temp_8,temp_9,temp_10];
const vocSets = [voc_1,voc_2,voc_4,voc_5,voc_6,voc_7,voc_8,voc_9,voc_10];
const co2Sets = {LCAQMP2: co2_2, LCAQMP4: co2_4, LCAQMP5: co2_5, LCAQMP6: co2_6, LCAQMP7: co2_7, LCAQMP8: co2_8, LCAQMP9: co2_9};

function pts(vals, t0, step){ return vals.map((v,i)=>[+(t0+i*step).toFixed(3), v]); }
function mk(name, color, vals, t0, step, ax, width, dotted){
  return {type:'line', name, xAxisIndex:ax, yAxisIndex:ax, data:pts(vals,t0,step), symbol:'none', showSymbol:false,
    lineStyle:{color, width, type: dotted ? 'dotted' : 'solid'}, itemStyle:{color}, silent:true, animation:false};
}
const series = [];
function eventSeries(ax){
  series.push({type:'line', name:'_events'+ax, xAxisIndex:ax, yAxisIndex:ax, data:[], silent:true,
    markLine:{silent:true, symbol:'none', animation:false, label:{show:false},
      lineStyle:{color:'#333', width:1.3, type:'solid'}, data:eventTimes.map(t=>({xAxis:t}))}});
}
eventSeries(0); eventSeries(3);
sensorNames.forEach((n,i)=>{
  series.push(mk(n, sensorColors[i], pm25Sets[i], 0, pmStep, 0, 2));
  series.push(mk(n, sensorColors[i], rhSets[i], 0, slowStep, 1, 2));
  series.push(mk(n, sensorColors[i], tempSets[i], 0, slowStep, 2, 2));
  series.push(mk(n, sensorColors[i], pm10Sets[i], 0, pmStep, 3, 2));
  if (co2Sets[n]) series.push(mk(n, sensorColors[i], co2Sets[n], co2Start[n], co2Step, 4, 1));
  series.push(mk(n, sensorColors[i], vocSets[i], 0, vocStep, 5, 2));
});
series.push(mk(fidasName, fidasColor, pm25_fidas, 0, fidasPmStep, 0, 2, true));
series.push(mk(fidasName, fidasColor, rh_fidas, 0, slowStep, 1, 2, true));
series.push(mk(fidasName, fidasColor, temp_fidas, 0, slowStep, 2, 2, true));
series.push(mk(fidasName, fidasColor, pm10_fidas, 0, fidasPmStep, 3, 2, true));

const axisCol = '#262626';
const gridBox = {show:true, borderColor:axisCol, borderWidth:1, backgroundColor:'#fff', containLabel:false};
const grids = [
  {left:198, top:65, width:575, height:255},
  {left:853, top:65, width:249, height:255},
  {left:1180, top:65, width:249, height:255},
  {left:198, top:420, width:575, height:256},
  {left:853, top:420, width:249, height:256},
  {left:1180, top:420, width:249, height:256}
].map(g=>Object.assign({}, gridBox, g));

const lbl = {color:axisCol, fontSize:13, fontFamily:FONT, margin:7, formatter: v => String(v)};
const split = {show:true, lineStyle:{color:'#e3e3e3', width:1}};
function xAx(i, opts){
  return Object.assign({type:'value', gridIndex:i, min:0, nameLocation:'middle',
    nameTextStyle:{color:axisCol, fontSize:13, fontFamily:FONT},
    axisLine:{show:true, onZero:false, lineStyle:{color:axisCol}},
    axisTick:{show:true, inside:true, length:4, lineStyle:{color:axisCol}},
    axisLabel:Object.assign({}, lbl), splitLine:split}, opts);
}
function yAx(i, opts){
  return Object.assign({type:'value', gridIndex:i, nameLocation:'middle', nameRotate:90,
    nameTextStyle:{color:axisCol, fontSize:13, fontFamily:FONT},
    axisLine:{show:true, onZero:false, lineStyle:{color:axisCol}},
    axisTick:{show:true, inside:true, length:4, lineStyle:{color:axisCol}},
    axisLabel:Object.assign({}, lbl), splitLine:split}, opts);
}
const pmMinor = {minorTick:{show:true, splitNumber:4, length:3, lineStyle:{color:axisCol}},
  minorSplitLine:{show:true, lineStyle:{color:'#cfcfcf', type:'dotted', width:1}}};
const xAxis = [
  xAx(0, Object.assign({max:22, interval:2, name:'Tid [min]', nameGap:27}, pmMinor)),
  xAx(1, {max:22.1, interval:5, name:'Tid [min]', nameGap:27, axisLabel:Object.assign({}, lbl, {showMaxLabel:false})}),
  xAx(2, {max:22.1, interval:5, name:'Tid [min]', nameGap:27, axisLabel:Object.assign({}, lbl, {showMaxLabel:false})}),
  xAx(3, Object.assign({max:22, interval:2, name:'Tid', nameGap:27}, pmMinor)),
  xAx(4, {max:22.1, interval:5, name:'Tid [min]', nameGap:27, axisLabel:Object.assign({}, lbl, {showMaxLabel:false, showMinLabel:false})}),
  xAx(5, {max:22.1, interval:5, name:'Tid [min]', nameGap:27, axisLabel:Object.assign({}, lbl, {showMaxLabel:false})})
];
const yAxis = [
  yAx(0, {min:0, max:5.67, interval:1, name:'Halt [µg/m3]', nameGap:20, axisLabel:Object.assign({}, lbl, {showMaxLabel:false})}),
  yAx(1, {min:22, max:34, interval:2, name:'%', nameGap:28}),
  yAx(2, {min:8, max:22, interval:2, name:'°C', nameGap:28}),
  yAx(3, {min:0, max:25, interval:5, name:'Halt [µg/m3]', nameGap:26}),
  yAx(4, {min:0, max:1000, interval:200, name:'PPM', nameGap:45}),
  yAx(5, {min:0, max:100, interval:20, name:'PPB', nameGap:33})
];

const tBold = {fontSize:13, fontWeight:'bold', color:'#000', fontFamily:FONT};
function subTitle(txt, x, y){ return {text:txt, left:x, top:y, textAlign:'center', textStyle:tBold}; }
function pmTitle(sub, x, y){
  return {text:'{a|PM}{b|'+sub+'}', left:x, top:y, textAlign:'center',
    textStyle:{rich:{a:Object.assign({}, tBold, {lineHeight:17, verticalAlign:'top'}),
      b:Object.assign({}, tBold, {fontSize:10, lineHeight:17, verticalAlign:'bottom'})}}};
}
const title = [
  {text:'Fältmätning - Frihamnens busshållplats', left:785, top:12, textAlign:'center',
    textStyle:{fontSize:17, fontWeight:'normal', color:'#000', fontFamily:FONT}},
  pmTitle('2.5', 486, 35),
  subTitle('Relativ luftfuktighet', 978, 45),
  subTitle('Temperatur', 1293, 45),
  pmTitle('10', 486, 395),
  subTitle('CO2', 978, 401),
  subTitle('VOC', 1293, 401)
];

const graphic = [{type:'rect', shape:{x:12.5, y:83.5, width:140, height:567}, style:{fill:'#fff', stroke:'#44dd44', lineWidth:1.5}, silent:true}];
eventText.forEach((t,i)=>{
  const indent = i%2===0 ? 20 : (t==='stannar' ? 41 : 46);
  graphic.push({type:'text', x:indent, y:97 + i*15.9 - 7, silent:true,
    style:{text:t, fill:'#000', font:'13px '+FONT}});
});
keyText.forEach((t,i)=>{
  graphic.push({type:'text', x:20, y:582 + i*16 - 7, silent:true, style:{text:t, fill:'#000', font:'13px '+FONT}});
});

const chart = echarts.init(document.getElementById('c'), null, {renderer:'canvas'});
chart.setOption({
  backgroundColor:'#fff', animation:false,
  textStyle:{fontFamily:FONT},
  title, grid:grids, xAxis, yAxis, series, graphic,
  legend:{data:sensorNames.concat([fidasName]), left:215, top:370, orient:'horizontal',
    itemWidth:37, itemHeight:12, itemGap:13, padding:[4,8], selectedMode:false,
    borderColor:axisCol, borderWidth:1, backgroundColor:'#fff',
    itemStyle:{opacity:0}, lineStyle:{width:2},
    textStyle:{fontSize:12, color:'#000', fontFamily:FONT, padding:[0,0,0,-1]}}
});
</script></body></html>
